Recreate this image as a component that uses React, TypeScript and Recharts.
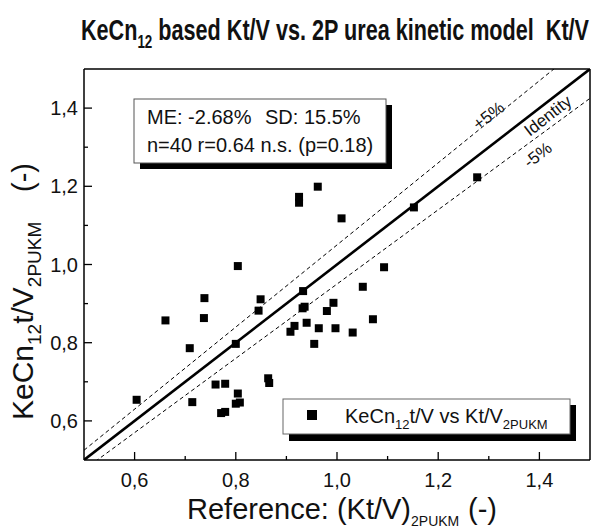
import React from "react";
import {
  ScatterChart,
  Scatter,
  XAxis,
  YAxis,
  ReferenceLine,
  ReferenceDot,
  Legend,
} from "recharts";

// reference (Kt/V)2PUKM vs KeCn12 t/V
const KTV_REF = [
  0.604, 0.661, 0.709, 0.714, 0.738, 0.737, 0.76, 0.779, 0.771, 0.779,
  0.804, 0.8, 0.804, 0.8, 0.808, 0.845, 0.849, 0.864, 0.866, 0.908,
  0.916, 0.925, 0.925, 0.932, 0.936, 0.933, 0.94, 0.955, 0.962, 0.964,
  0.98, 0.993, 0.997, 1.009, 1.031, 1.051, 1.071, 1.093, 1.152, 1.277,
];
const KTV_KECN = [
  0.654, 0.857, 0.786, 0.648, 0.914, 0.863, 0.693, 0.695, 0.62, 0.623,
  0.996, 0.797, 0.67, 0.644, 0.647, 0.882, 0.911, 0.709, 0.697, 0.828,
  0.843, 1.173, 1.158, 0.888, 0.892, 0.932, 0.851, 0.797, 1.199, 0.837,
  0.881, 0.902, 0.837, 1.118, 0.826, 0.943, 0.86, 0.993, 1.146, 1.223,
];

const AXIS_TICKS = [0.6, 0.7, 0.8, 0.9, 1.0, 1.1, 1.2, 1.3, 1.4];
const DOMAIN: [number, number] = [0.5, 1.5];

// identity and +/-5% bands (slope factors)
const BANDS = [
  { key: "plus5", factor: 1.05, dashed: true },
  { key: "identity", factor: 1.0, dashed: false },
  { key: "minus5", factor: 0.95, dashed: true },
];
const LINE_LABELS = [
  { text: "+5%", x: 1.3, y: 1.38 },
  { text: "Identity", x: 1.417, y: 1.38 },
  { text: "-5%", x: 1.397, y: 1.28 },
];

const FONT = "'Liberation Sans', Arial, sans-serif";
const ANGLE = -37.7;

const data = KTV_REF.map((x, i) => ({ x, y: KTV_KECN[i] }));

function AxisTick(props: any) {
  const { x, y, payload, side } = props;
  const v = payload.value as number;
  const major = Math.round(v * 10) % 2 === 0;
  const len = major ? 8 : 4;
  const label = v.toFixed(1).replace(".", ",");
  if (side === "bottom") {
    return (
      <g>
        <line x1={x} y1={y} x2={x} y2={y - len} stroke="#000" strokeWidth={1.3} />
        {major && (
          <text x={x} y={y + 27} textAnchor="middle" fontSize={20} fontFamily={FONT} fill="#111">
            {label}
          </text>
        )}
      </g>
    );
  }
  if (side === "top") {
    return <line x1={x} y1={y} x2={x} y2={y + len} stroke="#000" strokeWidth={1.3} />;
  }
  if (side === "left") {
    return (
      <g>
        <line x1={x} y1={y} x2={x + len} y2={y} stroke="#000" strokeWidth={1.3} />
        {major && (
          <text x={x - 6} y={y + 7} textAnchor="end" fontSize={20} fontFamily={FONT} fill="#111">
            {label}
          </text>
        )}
      </g>
    );
  }
  return <line x1={x} y1={y} x2={x - len} y2={y} stroke="#000" strokeWidth={1.3} />;
}

function LegendBox() {
  return (
    <svg width={300} height={50} style={{ overflow: "visible", display: "block" }}>
      <rect x={6} y={6} width={287} height={36} fill="#000" />
      <rect x={0} y={0} width={287} height={35} fill="#fff" stroke="#666" strokeWidth={1} />
      <rect x={24} y={11} width={10} height={10} fill="#000" />
      <text x={62} y={24} fontSize={20} fontFamily={FONT} fill="#111">
        KeCn
        <tspan fontSize={13} dy={6}>12</tspan>
        <tspan dy={-6}>t/V vs Kt/V</tspan>
        <tspan fontSize={13} dy={6}>2PUKM</tspan>
      </text>
    </svg>
  );
}

export default function App() {
  const axisLine = { stroke: "#000", strokeWidth: 1.5 };
  return (
    <div style={{ position: "relative", width: 597, height: 528, background: "#fff" }}>
      <style>{`body{margin:0}`}</style>
      <ScatterChart
        width={597}
        height={528}
        margin={{ top: 68, right: 6, bottom: 67, left: 83 }}
        style={{ position: "absolute", left: 0, top: 0 }}
      >
        <XAxis
          dataKey="x"
          type="number"
          domain={DOMAIN}
          ticks={AXIS_TICKS}
          interval={0}
          height={1}
          tickSize={0}
          tickMargin={0}
          tickLine={false}
          axisLine={axisLine}
          tick={(p: any) => <AxisTick {...p} side="bottom" />}
        />
        <XAxis
          xAxisId="top"
          orientation="top"
          type="number"
          domain={DOMAIN}
          ticks={AXIS_TICKS}
          interval={0}
          height={1}
          tickSize={0}
          tickMargin={0}
          tickLine={false}
          axisLine={axisLine}
          tick={(p: any) => <AxisTick {...p} side="top" />}
        />
        <YAxis
          dataKey="y"
          type="number"
          domain={DOMAIN}
          ticks={AXIS_TICKS}
          interval={0}
          width={1}
          tickSize={0}
          tickMargin={0}
          tickLine={false}
          axisLine={axisLine}
          tick={(p: any) => <AxisTick {...p} side="left" />}
        />
        <YAxis
          yAxisId="right"
          orientation="right"
          type="number"
          domain={DOMAIN}
          ticks={AXIS_TICKS}
          interval={0}
          width={1}
          tickSize={0}
          tickMargin={0}
          tickLine={false}
          axisLine={axisLine}
          tick={(p: any) => <AxisTick {...p} side="right" />}
        />
        {BANDS.map((b) => (
          <ReferenceLine
            key={b.key}
            segment={[
              { x: DOMAIN[0], y: DOMAIN[0] * b.factor },
              { x: DOMAIN[1], y: DOMAIN[1] * b.factor },
            ]}
            ifOverflow="hidden"
            stroke="#000"
            strokeWidth={b.dashed ? 1 : 2.6}
            strokeDasharray={b.dashed ? "4 3" : undefined}
          />
        ))}
        {LINE_LABELS.map((l) => (
          <ReferenceDot
            key={l.text}
            x={l.x}
            y={l.y}
            r={0}
            shape={(p: any) => (
              <text
                x={p.cx}
                y={p.cy}
                textAnchor="middle"
                dominantBaseline="central"
                fontSize={17}
                fontFamily={FONT}
                fill="#111"
                transform={`rotate(${ANGLE} ${p.cx} ${p.cy})`}
              >
                {l.text}
              </text>
            )}
          />
        ))}
        <Scatter
          name="KeCn12t/V vs Kt/V2PUKM"
          data={data}
          fill="#000"
          shape="square"
          legendType="square"
          size={72}
          isAnimationActive={false}
        />
        <Legend
          layout="vertical"
          align="center"
          verticalAlign="middle"
          content={() => <LegendBox />}
          wrapperStyle={{ position: "absolute", left: 283, top: 399, width: 300, height: 50 }}
        />
      </ScatterChart>

      <svg
        width={597}
        height={528}
        style={{ position: "absolute", left: 0, top: 0, pointerEvents: "none", overflow: "visible" }}
      >
        {/* title */}
        <text
          x={81}
          y={40}
          fontSize={29}
          fontWeight="bold"
          fontFamily="'Liberation Sans Narrow', 'Liberation Sans', Arial, sans-serif"
          fill="#111"
          textLength={508}
          lengthAdjust="spacingAndGlyphs"
          style={{ whiteSpace: "pre" }}
        >
          KeCn
          <tspan fontSize={18} dy={8}>12</tspan>
          <tspan dy={-8}>{" based Kt/V vs. 2P urea kinetic model  Kt/V"}</tspan>
        </text>

        {/* stats box */}
        <rect x={140} y={105} width={252} height={64} fill="#000" />
        <rect x={134} y={99} width={252} height={64} fill="#fff" stroke="#555" strokeWidth={1} />
        <text x={147} y={124} fontSize={20} fontFamily={FONT} fill="#111">ME: -2.68%</text>
        <text x={265} y={124} fontSize={20} fontFamily={FONT} fill="#111">SD: 15.5%</text>
        <text x={147} y={152} fontSize={20} fontFamily={FONT} fill="#111">n=40 r=0.64 n.s. (p=0.18)</text>

        {/* x axis title */}
        <text x={187} y={519} fontSize={29} fontFamily={FONT} fill="#111">
          Reference: (Kt/V)
          <tspan fontSize={14} dy={7}>2PUKM</tspan>
        </text>
        <text x={468} y={519} fontSize={29} fontFamily={FONT} fill="#111">(-)</text>

        {/* y axis title */}
        <text transform="translate(33,420) rotate(-90)" fontSize={30} fontFamily={FONT} fill="#111">
          KeCn
          <tspan fontSize={19} dy={8}>12</tspan>
          <tspan dy={-8}>t/V</tspan>
          <tspan fontSize={19} dy={8}>2PUKM</tspan>
        </text>
        <text transform="translate(33,192) rotate(-90)" fontSize={29} fontFamily={FONT} fill="#111">(-)</text>
      </svg>
    </div>
  );
}
